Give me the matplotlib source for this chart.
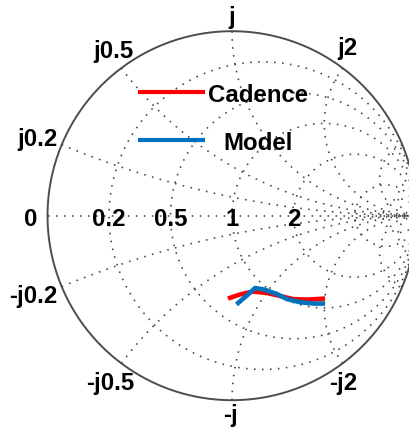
import numpy as np
import matplotlib
matplotlib.use("Agg")
import matplotlib.pyplot as plt
from matplotlib.lines import Line2D

# Reflection coefficient traces (real and imaginary parts)
cadence_re = [-0.022, 0.043, 0.114, 0.190, 0.260, 0.331, 0.407, 0.504]
cadence_im = [-0.449, -0.427, -0.411, -0.419, -0.435, -0.452, -0.455, -0.449]
model_re = [0.024, 0.071, 0.125, 0.173, 0.242, 0.298, 0.369, 0.439, 0.504]
model_im = [-0.481, -0.441, -0.392, -0.400, -0.424, -0.452, -0.469, -0.476, -0.476]

series_names = ["Cadence", "Model"]
series_colors = ["#ff0000", "#0072bd"]

# Smith chart grid: constant resistance circles and constant reactance arcs
resistance_grid = [0.2, 0.5, 1, 2, 5, 10]
reactance_grid = [0.2, 0.5, 1, 2, 5, 10]

# Labelled grid values
resistance_ticks = [0.2, 0.5, 1, 2]
resistance_tick_labels = ["0.2", "0.5", "1", "2"]
reactance_tick_labels = ["j0.2", "j0.5", "j", "j2", "-j0.2", "-j0.5", "-j", "-j2"]

# label anchor points just outside the boundary circle
reactance_label_pos = [(-1.052, 0.416), (-0.640, 0.893), (0.0, 1.082),
                       (0.623, 0.914), (-1.079, -0.435), (-0.661, -0.902),
                       (-0.008, -1.075), (0.602, -0.902)]

FONT = dict(family="Liberation Sans", weight="bold", size=17.3, color="black")
GRID = dict(color="#444444", lw=1.15, ls=(0, (1, 4.0)), zorder=1)

fig = plt.figure(figsize=(4.09, 4.31), dpi=100)
ax = fig.add_axes([0, 0, 1, 1])
ax.set_xlim(-1.2575, 0.9593)
ax.set_ylim(-1.1615, 1.1745)
ax.axis("off")


def gamma(z):
    return (z - 1) / (z + 1)


# constant resistance circles
theta = np.linspace(0.0, 2 * np.pi, 1200)
for r in resistance_grid:
    c, rho = r / (1 + r), 1 / (1 + r)
    ax.plot(c + rho * np.cos(theta), rho * np.sin(theta), **GRID)

# constant reactance arcs (both signs)
t = np.linspace(0.0, 0.99995, 4000)
rr = t / (1 - t)
for x in reactance_grid:
    for s in (1, -1):
        g = gamma(rr + 1j * s * x)
        ax.plot(g.real, g.imag, **GRID)

# real axis
ax.plot([-1, 1], [0, 0], **GRID)

# outer boundary
ax.plot(np.cos(theta), np.sin(theta), color="#4d4d4d", lw=1.4, zorder=2)

# resistance labels on the real axis
for r, lab in zip(resistance_ticks, resistance_tick_labels):
    g = gamma(r)
    ax.text(g, 0, lab, ha="center", va="center_baseline", zorder=4, **FONT)
ax.text(-1.09, 0, "0", ha="center", va="center_baseline", zorder=4, **FONT)

# reactance labels outside the boundary
for (px, py), lab in zip(reactance_label_pos, reactance_tick_labels):
    ax.text(px, py, lab, ha="center", va="center", zorder=4, **FONT)

# data traces
ax.plot(cadence_re, cadence_im, color=series_colors[0], lw=3.3,
        solid_capstyle="butt", zorder=3)
ax.plot(model_re, model_im, color=series_colors[1], lw=3.3,
        solid_capstyle="butt", zorder=3)

# legend
leg_y = [1 - 93.3 / 431, 1 - 140.7 / 431]
for name, col, y in zip(series_names, series_colors, leg_y):
    fig.add_artist(Line2D([139.5 / 409, 203 / 409], [y, y], color=col, lw=3.0,
                          transform=fig.transFigure, zorder=5))
    fig.text(258 / 409, y, name, ha="center", va="center_baseline", **FONT)

fig.savefig("out.png", dpi=100)
